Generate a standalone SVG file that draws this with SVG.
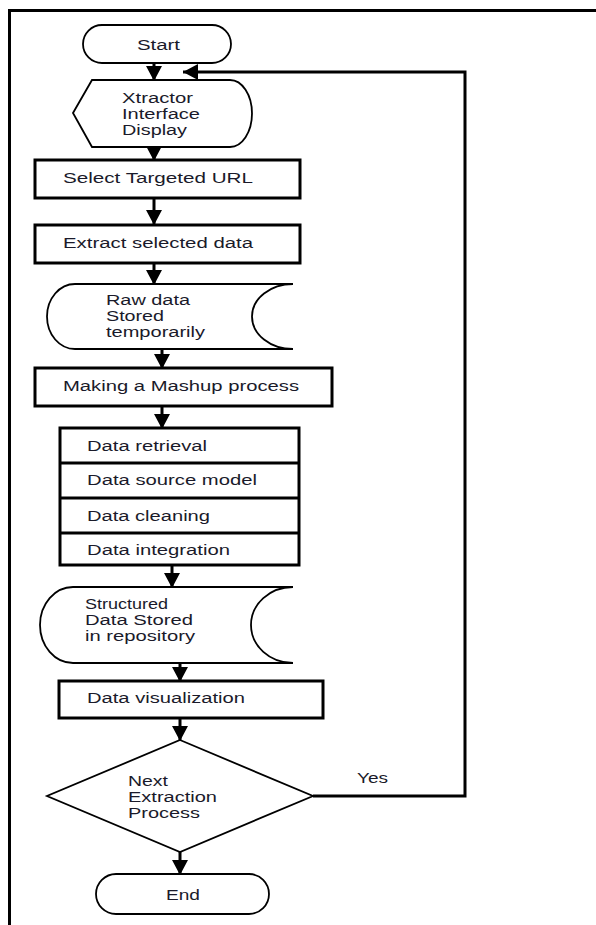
<svg xmlns="http://www.w3.org/2000/svg" width="596" height="925" viewBox="0 0 596 925">
<defs>
<marker id="ah" markerUnits="userSpaceOnUse" markerWidth="18" markerHeight="16" viewBox="0 0 16 16" refX="15" refY="8" orient="auto">
<path d="M0,0 L15,8 L0,16 Z" fill="#000"/>
</marker>
<style>
.box{fill:#fff;stroke:#000;stroke-width:3}
.thin{fill:#fff;stroke:#000;stroke-width:1.8}
.t{font-family:"Liberation Sans",Arial,sans-serif;font-size:14px;fill:#1a1a2a}
.c{stroke:#000;stroke-width:3;fill:none}
</style>
</defs>
<rect x="0" y="0" width="596" height="925" fill="#fff"/>
<path d="M9.5,925 V10.5 H596" fill="none" stroke="#000" stroke-width="3"/>

<g id="connectors">
<path class="c" d="M154,63 V81" marker-end="url(#ah)"/>
<path class="c" d="M154,147 V161" marker-end="url(#ah)"/>
<path class="c" d="M154,198 V225" marker-end="url(#ah)"/>
<path class="c" d="M154,263 V285" marker-end="url(#ah)"/>
<path class="c" d="M162,349 V369" marker-end="url(#ah)"/>
<path class="c" d="M162,406 V429" marker-end="url(#ah)"/>
<path class="c" d="M172,565 V588" marker-end="url(#ah)"/>
<path class="c" d="M180,663 V682" marker-end="url(#ah)"/>
<path class="c" d="M180,718 V741" marker-end="url(#ah)"/>
<path class="c" d="M180,852 V875" marker-end="url(#ah)"/>
<path class="c" d="M313,796 H465 V72 H183" marker-end="url(#ah)"/>
<text class="t" x="357" y="783" font-size="13" textLength="31" lengthAdjust="spacingAndGlyphs">Yes</text>
</g>

<g id="start">
<rect class="thin" x="83" y="25" width="148" height="38" rx="19"/>
<text class="t" x="137" y="50" textLength="43" lengthAdjust="spacingAndGlyphs">Start</text>
</g>

<g id="display">
<path class="thin" d="M73,113 L92,80 H230 A22,33.5 0 0 1 230,147 H92 Z"/>
<text class="t" x="122" y="103" textLength="71" lengthAdjust="spacingAndGlyphs">Xtractor</text>
<text class="t" x="122" y="119" textLength="78" lengthAdjust="spacingAndGlyphs">Interface</text>
<text class="t" x="122" y="135" textLength="65" lengthAdjust="spacingAndGlyphs">Display</text>
</g>

<g id="select-url">
<rect class="box" x="35" y="160" width="265" height="38"/>
<text class="t" x="63" y="183" textLength="190" lengthAdjust="spacingAndGlyphs">Select Targeted URL</text>
</g>

<g id="extract">
<rect class="box" x="35" y="225" width="265" height="38"/>
<text class="t" x="63" y="248" textLength="190" lengthAdjust="spacingAndGlyphs">Extract selected data</text>
</g>

<g id="raw-data">
<path class="thin" d="M75,284 H293 A41,32.5 0 0 0 293,349 H75 A28,32.5 0 0 1 75,284 Z"/>
<text class="t" x="106" y="305" textLength="84" lengthAdjust="spacingAndGlyphs">Raw data</text>
<text class="t" x="106" y="321" textLength="58" lengthAdjust="spacingAndGlyphs">Stored</text>
<text class="t" x="106" y="337" textLength="99" lengthAdjust="spacingAndGlyphs">temporarily</text>
</g>

<g id="mashup">
<rect class="box" x="35" y="368" width="297" height="38"/>
<text class="t" x="63" y="391" textLength="236" lengthAdjust="spacingAndGlyphs">Making a Mashup process</text>
</g>

<g id="mashup-steps">
<rect class="box" x="60" y="428" width="239" height="137"/>
<path class="c" d="M60,463 H299 M60,498 H299 M60,533 H299"/>
<text class="t" x="87" y="451" textLength="120" lengthAdjust="spacingAndGlyphs">Data retrieval</text>
<text class="t" x="87" y="485" textLength="170" lengthAdjust="spacingAndGlyphs">Data source model</text>
<text class="t" x="87" y="521" textLength="123" lengthAdjust="spacingAndGlyphs">Data cleaning</text>
<text class="t" x="87" y="555" textLength="143" lengthAdjust="spacingAndGlyphs">Data integration</text>
</g>

<g id="structured-data">
<path class="thin" d="M73,587 H293 A42,38 0 0 0 293,663 H73 A33,38 0 0 1 73,587 Z"/>
<text class="t" x="85" y="609" textLength="83" lengthAdjust="spacingAndGlyphs">Structured</text>
<text class="t" x="85" y="625" textLength="108" lengthAdjust="spacingAndGlyphs">Data Stored</text>
<text class="t" x="85" y="641" textLength="110" lengthAdjust="spacingAndGlyphs">in repository</text>
</g>

<g id="visualization">
<rect class="box" x="59" y="681" width="264" height="37"/>
<text class="t" x="87" y="703" textLength="158" lengthAdjust="spacingAndGlyphs">Data visualization</text>
</g>

<g id="decision">
<path class="thin" d="M180,740 L313,796 L180,852 L47,796 Z"/>
<text class="t" x="128" y="786" textLength="40" lengthAdjust="spacingAndGlyphs">Next</text>
<text class="t" x="128" y="802" textLength="89" lengthAdjust="spacingAndGlyphs">Extraction</text>
<text class="t" x="128" y="818" textLength="72" lengthAdjust="spacingAndGlyphs">Process</text>
</g>

<g id="end">
<rect class="thin" x="96" y="874" width="173" height="40" rx="20"/>
<text class="t" x="166" y="900" textLength="34" lengthAdjust="spacingAndGlyphs">End</text>
</g>
</svg>
